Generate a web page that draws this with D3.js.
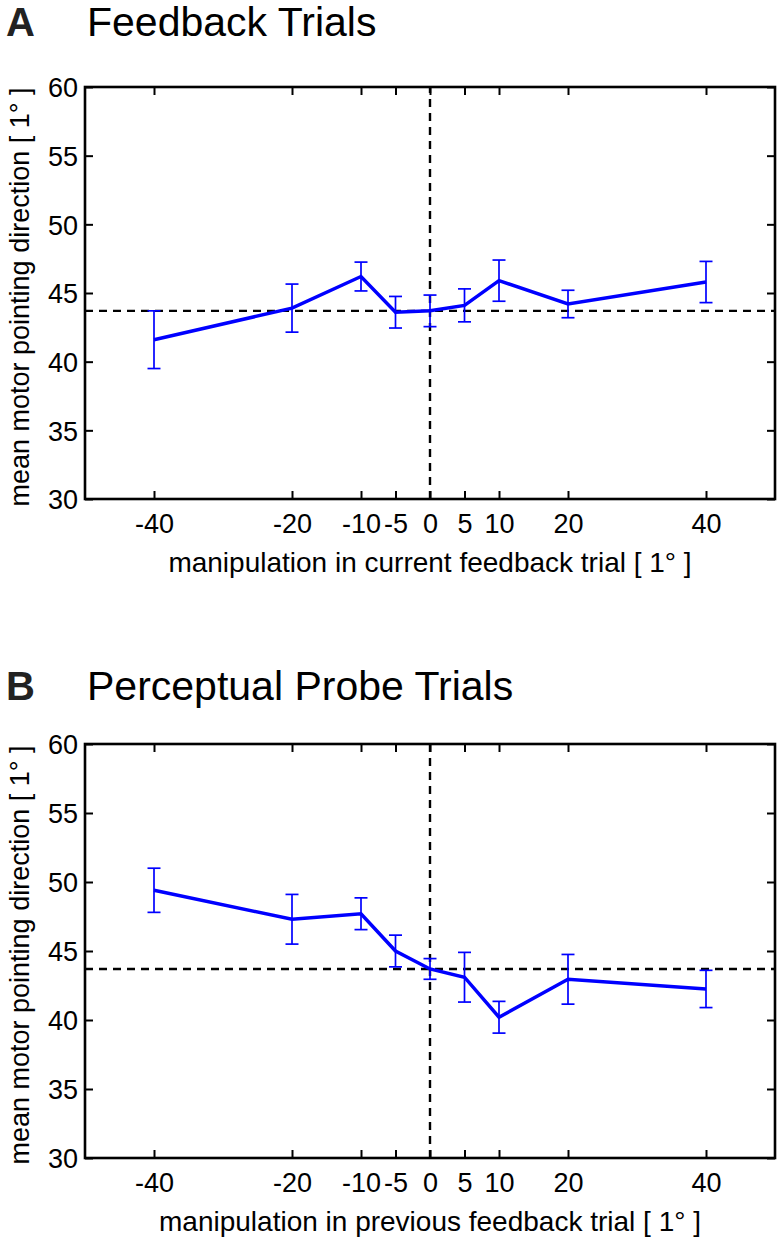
<!DOCTYPE html>
<html>
<head>
<meta charset="utf-8">
<script src="https://cdn.jsdelivr.net/npm/d3@7"></script>
<style>
  body { margin: 0; background: #fff; }
  svg text { font-family: "Liberation Sans", Arial, Helvetica, sans-serif; }
</style>
</head>
<body>
<div id="chart"></div>
<script>
// x categories: manipulation in degrees
const manipulation = [-40, -20, -10, -5, 0, 5, 10, 20, 40];
const yTicks = [30, 35, 40, 45, 50, 55, 60];

// panel A: feedback trials
const feedbackMean = [41.6, 43.9, 46.2, 43.6, 43.7, 44.1, 45.9, 44.2, 45.8];
const feedbackErr = [2.1, 1.75, 1.05, 1.15, 1.15, 1.2, 1.5, 1.0, 1.5];
const feedbackBaseline = 43.7;

// panel B: perceptual probe trials
const probeMean = [49.4, 47.3, 47.7, 45.0, 43.7, 43.1, 40.2, 42.95, 42.25];
const probeErr = [1.6, 1.8, 1.15, 1.15, 0.75, 1.8, 1.15, 1.8, 1.35];
const probeBaseline = 43.7;

const width = 783, height = 1243;
const svg = d3.select('#chart').append('svg')
  .attr('width', width)
  .attr('height', height);

const panels = [
  { letter: 'A', title: 'Feedback Trials', top: 87, bottom: 499, titleY: 36,
    xlabel: 'manipulation in current feedback trial [ 1° ]',
    mean: feedbackMean, err: feedbackErr, base: feedbackBaseline },
  { letter: 'B', title: 'Perceptual Probe Trials', top: 744, bottom: 1158, titleY: 700,
    xlabel: 'manipulation in previous feedback trial [ 1° ]',
    mean: probeMean, err: probeErr, base: probeBaseline }
];

const left = 85, right = 775;
const blue = '#0000ff';

panels.forEach(p => {
  const x = d3.scaleLinear().domain([-50, 50]).range([left, right]);
  const y = d3.scaleLinear().domain([30, 60]).range([p.bottom, p.top]);
  const g = svg.append('g');

  // titles
  g.append('text')
    .attr('x', 6).attr('y', p.titleY)
    .attr('font-size', 40).attr('font-weight', 'bold')
    .attr('fill', '#222')
    .text(p.letter);
  g.append('text')
    .attr('x', 87).attr('y', p.titleY)
    .attr('font-size', 41)
    .text(p.title);

  // axes, ticks inside on all sides
  const tickLen = 8;
  g.append('g')
    .attr('transform', `translate(0,${p.bottom})`)
    .call(d3.axisBottom(x).tickValues(manipulation).tickSizeInner(-tickLen).tickSizeOuter(0).tickPadding(15).tickFormat(d => String(d)))
    .call(a => a.selectAll('text').attr('font-size', 27).attr('fill', '#000').attr('font-family', null));
  g.append('g')
    .attr('transform', `translate(0,${p.top})`)
    .call(d3.axisTop(x).tickValues(manipulation).tickSizeInner(-tickLen).tickSizeOuter(0).tickFormat(''));
  g.append('g')
    .attr('transform', `translate(${left},0)`)
    .call(d3.axisLeft(y).tickValues(yTicks).tickSizeInner(-tickLen).tickSizeOuter(0).tickPadding(7).tickFormat(d => String(d)))
    .call(a => a.selectAll('text').attr('font-size', 27).attr('fill', '#000').attr('dy', '0.36em').attr('font-family', null));
  g.append('g')
    .attr('transform', `translate(${right},0)`)
    .call(d3.axisRight(y).tickValues(yTicks).tickSizeInner(-tickLen).tickSizeOuter(0).tickFormat(''));
  g.selectAll('.domain').remove();
  g.selectAll('.tick line').attr('stroke', '#000').attr('stroke-width', 2);

  g.append('rect')
    .attr('x', left).attr('y', p.top)
    .attr('width', right - left).attr('height', p.bottom - p.top)
    .attr('fill', 'none').attr('stroke', '#000').attr('stroke-width', 2.6);

  // axis labels
  g.append('text')
    .attr('x', (left + right) / 2).attr('y', p.bottom + 73)
    .attr('text-anchor', 'middle').attr('font-size', 28)
    .text(p.xlabel);
  g.append('text')
    .attr('transform', `translate(29,${(p.top + p.bottom) / 2 + 4}) rotate(-90)`)
    .attr('text-anchor', 'middle').attr('font-size', 27)
    .text('mean motor pointing direction [ 1° ]');

  // dashed reference lines
  g.append('line')
    .attr('x1', left).attr('x2', right)
    .attr('y1', y(p.base)).attr('y2', y(p.base))
    .attr('stroke', '#000').attr('stroke-width', 2.4).attr('stroke-dasharray', '8,6');
  g.append('line')
    .attr('x1', x(0)).attr('x2', x(0))
    .attr('y1', p.bottom).attr('y2', p.top)
    .attr('stroke', '#000').attr('stroke-width', 2.4).attr('stroke-dasharray', '8,6');

  const pts = manipulation.map((m, i) => ({ m, v: p.mean[i], e: p.err[i] }));

  // error bars
  const eb = g.append('g').attr('stroke', blue).attr('stroke-width', 1.7);
  eb.selectAll('.v').data(pts).enter().append('line')
    .attr('x1', d => x(d.m)).attr('x2', d => x(d.m))
    .attr('y1', d => y(d.v - d.e)).attr('y2', d => y(d.v + d.e));
  ['-', '+'].forEach(s => {
    eb.selectAll('.cap' + (s === '-' ? 'lo' : 'hi')).data(pts).enter().append('line')
      .attr('x1', d => x(d.m) - 6.5).attr('x2', d => x(d.m) + 6.5)
      .attr('y1', d => y(s === '-' ? d.v - d.e : d.v + d.e))
      .attr('y2', d => y(s === '-' ? d.v - d.e : d.v + d.e));
  });

  // mean line
  g.append('path')
    .datum(pts)
    .attr('fill', 'none')
    .attr('stroke', blue)
    .attr('stroke-width', 3.5)
    .attr('stroke-linejoin', 'miter')
    .attr('d', d3.line().x(d => x(d.m)).y(d => y(d.v)));
});
</script>
</body>
</html>
